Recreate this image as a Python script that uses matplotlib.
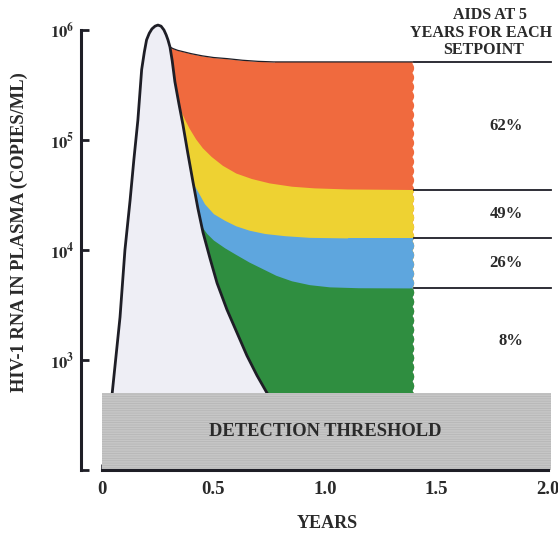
import matplotlib
matplotlib.use('Agg')
import matplotlib.pyplot as plt
import numpy as np
from matplotlib.patches import Rectangle, Polygon
from matplotlib.ticker import NullLocator

plt.rcParams['font.family'] = ['Liberation Serif', 'DejaVu Serif']
plt.rcParams['font.weight'] = 'bold'
plt.rcParams['mathtext.fontset'] = 'stix'
plt.rcParams['hatch.linewidth'] = 0.5

# primary infection peak and decline (years, log10 copies/mL)
peak_years = [0.040, 0.049, 0.081, 0.103, 0.126, 0.143, 0.161, 0.178, 0.190, 0.200, 0.212,
              0.224, 0.238, 0.251, 0.265, 0.278, 0.288, 0.296, 0.305, 0.315, 0.327, 0.345,
              0.363, 0.385, 0.408, 0.430, 0.453, 0.485, 0.516, 0.560, 0.605, 0.650, 0.695,
              0.740, 0.790]
peak_log = [2.58, 2.76, 3.39, 4.00, 4.45, 4.82, 5.18, 5.64, 5.80, 5.91, 5.97,
            6.01, 6.035, 6.045, 6.035, 6.00, 5.955, 5.91, 5.845, 5.72, 5.53, 5.33,
            5.14, 4.88, 4.62, 4.38, 4.16, 3.92, 3.70, 3.46, 3.25, 3.04, 2.86,
            2.70, 2.56]

# viral load decay towards each setpoint
orange_years = [0.305, 0.32, 0.34, 0.37, 0.40, 0.45, 0.50, 0.56, 0.63, 0.70, 0.77, 1.40]
orange_log = [5.845, 5.83, 5.815, 5.80, 5.785, 5.765, 5.75, 5.74, 5.725, 5.715, 5.71, 5.71]

yellow_years = [0.35, 0.37, 0.39, 0.42, 0.45, 0.49, 0.54, 0.60, 0.67, 0.75, 0.85, 0.95,
                1.10, 1.40]
yellow_log = [5.28, 5.19, 5.11, 5.01, 4.93, 4.85, 4.77, 4.70, 4.65, 4.61, 4.58, 4.565,
              4.555, 4.55]

blue_years = [0.41, 0.43, 0.46, 0.50, 0.55, 0.60, 0.66, 0.73, 0.82, 0.93, 1.10, 1.40]
blue_log = [4.60, 4.53, 4.42, 4.33, 4.27, 4.22, 4.18, 4.15, 4.13, 4.115, 4.11, 4.11]

green_years = [0.445, 0.47, 0.50, 0.55, 0.60, 0.66, 0.72, 0.78, 0.85, 0.93, 1.02, 1.15, 1.40]
green_log = [4.22, 4.15, 4.09, 4.02, 3.96, 3.89, 3.83, 3.77, 3.72, 3.685, 3.665, 3.657, 3.655]

setpoint_log = [5.71, 4.55, 4.11, 3.655]
aids_pct = ['62%', '49%', '26%', '8%']
threshold = 500

x_ticks = [0, 0.5, 1.0, 1.5, 2.0]
x_labels = ['0', '0.5', '1.0', '1.5', '2.0']
y_decades = [2, 3, 4, 5, 6]

ink = '#1e1e26'
txt = '#2a2a2a'
band_colors = ['#f06a3e', '#eed232', '#5ea6de', '#2f8e40']

fig = plt.figure(figsize=(5.58, 5.33), dpi=100)
ax = fig.add_axes([81 / 558, 63 / 533, 471 / 558, 450 / 533])
ax.set_yscale('log')
ax.set_xlim(-0.094, 2.018)
ax.set_ylim(1e2, 10 ** 6.091)

# scalloped right edge of the coloured bands
edge_log = np.linspace(1.9, 6.2, 1200)
edge_x = 1.40 - 0.008 * (1 - np.abs(np.sin(np.pi * edge_log / 0.085)))
clip_xy = [(-0.2, 10 ** 6.2)] + list(zip(edge_x[::-1], 10 ** edge_log[::-1])) + [(-0.2, 10 ** 1.9)]
clip = Polygon(clip_xy, closed=True, transform=ax.transData, facecolor='none', edgecolor='none')
ax.add_patch(clip)

bands = [(orange_years, orange_log), (yellow_years, yellow_log),
         (blue_years, blue_log), (green_years, green_log)]
for (yrs, lg), c in zip(bands, band_colors):
    fc = ax.fill_between(yrs, 10 ** np.array(lg), 1e2, color=c, lw=0, zorder=1)
    fc.set_clip_path(clip)

ax.fill_between(peak_years, 10 ** np.array(peak_log), 1e2, color='#eeeef5', lw=0, zorder=1.5)
ax.plot(peak_years, 10 ** np.array(peak_log), color=ink, lw=2, zorder=2,
        solid_capstyle='round', solid_joinstyle='round')
top_line, = ax.plot(orange_years, 10 ** np.array(orange_log), color=ink, lw=0.9, zorder=2)
top_line.set_clip_path(clip)

# setpoint lines and AIDS risk at 5 years
for lv in setpoint_log:
    ax.plot([1.40, 2.013], [10 ** lv, 10 ** lv], color=ink, lw=1.3, zorder=2, clip_on=False)
band_edges = setpoint_log + [np.log10(threshold)]
for i, pct in enumerate(aids_pct):
    mid = (band_edges[i] + band_edges[i + 1]) / 2
    ax.text(1.888, 10 ** mid, pct, ha='right', va='center', fontsize=12,
            fontweight='bold', color=txt)

# detection threshold
box = Rectangle((0, 1e2), 2.013, threshold - 1e2, facecolor='#c6c6c6', edgecolor='#b4b4b4',
                hatch='-------', lw=0, zorder=3, clip_on=False)
ax.add_patch(box)
ax.text(1.0, 10 ** ((2 + np.log10(threshold)) / 2), 'DETECTION THRESHOLD', ha='center',
        va='center', fontsize=13.3, fontweight='bold', color=txt, zorder=4)

for s in ['top', 'right']:
    ax.spines[s].set_visible(False)
for s in ['left', 'bottom']:
    ax.spines[s].set_linewidth(2.2)
    ax.spines[s].set_color(ink)
    ax.spines[s].set_zorder(5)
ax.spines['left'].set_bounds(1e2, 1e6)
ax.spines['bottom'].set_bounds(0, 2.0)

ax.set_xticks(x_ticks, x_labels)
ax.set_xticks(np.arange(0, 2.01, 0.125), minor=True)
ax.set_yticks([10.0 ** d for d in y_decades],
              [''] + [r'$\mathbf{10^{%d}}$' % d for d in y_decades[1:]])
ax.yaxis.set_minor_locator(NullLocator())
ax.tick_params(axis='y', direction='in', length=6, width=2, pad=5, labelsize=12,
               color=ink, labelcolor=txt)
ax.tick_params(axis='x', which='major', direction='in', length=4.5, width=1.8, pad=8,
               labelsize=13.5, color=ink, labelcolor=txt)
ax.tick_params(axis='x', which='minor', direction='in', length=2.5, width=1.2, color=ink)
for lab in ax.get_xticklabels():
    lab.set_fontweight('bold')

fig.text(327 / 558, 1 - 523 / 533, 'YEARS', ha='center', va='center', fontsize=13,
         fontweight='bold', color=txt)
fig.text(19 / 558, 1 - 232 / 533, 'HIV-1 RNA IN PLASMA (COPIES/ML)', ha='center',
         va='center', rotation=90, fontsize=13.3, fontweight='bold', color=txt)
header = [('AIDS AT 5', 490, 15), ('YEARS FOR EACH', 481, 33), ('SETPOINT', 484, 50)]
for line, hx, hy in header:
    fig.text(hx / 558, 1 - hy / 533, line, ha='center', va='center', fontsize=11.5,
             fontweight='bold', color=txt)

fig.savefig('out.png', dpi=100)
